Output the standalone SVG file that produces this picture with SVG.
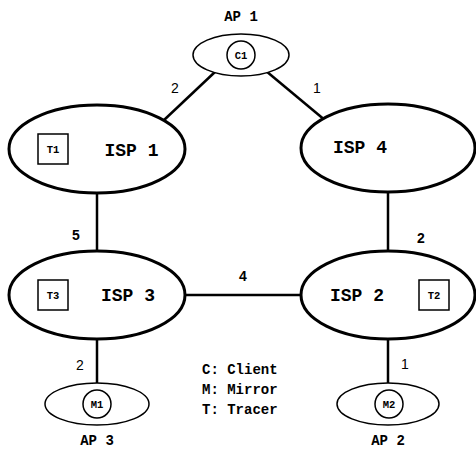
<svg xmlns="http://www.w3.org/2000/svg" width="476" height="449" viewBox="0 0 476 449">
<style>
.isp{fill:#fff;stroke:#000;stroke-width:3}
.ap{fill:#fff;stroke:#000;stroke-width:1.5}
.sm{fill:#fff;stroke:#000;stroke-width:1.5}
.ln{stroke:#000;stroke-width:2.5;fill:none}
.big{font-family:"Liberation Mono",monospace;font-weight:bold;font-size:18px}
.lab{font-family:"Liberation Mono",monospace;font-weight:bold;font-size:14px}
.tiny{font-family:"Liberation Mono",monospace;font-weight:bold;font-size:10.5px}
.num{font-family:"Liberation Sans",Arial,sans-serif;font-size:14px}
.numb{font-family:"Liberation Sans",Arial,sans-serif;font-size:14px;font-weight:bold}
</style>
<rect width="476" height="449" fill="#fff"/>
<g id="connectors">
<line class="ln" x1="163" y1="121" x2="216" y2="71"/>
<line class="ln" x1="266" y1="71" x2="326" y2="121"/>
<line class="ln" x1="97" y1="193" x2="97" y2="251"/>
<line class="ln" x1="388" y1="192" x2="388" y2="251"/>
<line class="ln" x1="185" y1="295" x2="300" y2="295"/>
<line class="ln" x1="97" y1="339" x2="97" y2="383"/>
<line class="ln" x1="388" y1="339" x2="388" y2="383"/>
<text class="num" x="175" y="93" text-anchor="middle">2</text>
<text class="num" x="317" y="93" text-anchor="middle">1</text>
<text class="numb" x="76" y="240" text-anchor="middle">5</text>
<text class="numb" x="421" y="243" text-anchor="middle">2</text>
<text class="numb" x="243" y="281" text-anchor="middle">4</text>
<text class="num" x="80" y="370" text-anchor="middle">2</text>
<text class="num" x="405" y="369" text-anchor="middle">1</text>
</g>
<g id="ap1">
<text class="lab" x="241" y="21" text-anchor="middle">AP 1</text>
<ellipse class="ap" cx="241" cy="55" rx="48" ry="21"/>
<circle class="sm" cx="241" cy="55" r="14"/>
<text class="tiny" x="241" y="59" text-anchor="middle">C1</text>
</g>
<g id="isp1">
<ellipse class="isp" cx="97" cy="149" rx="88" ry="44"/>
<rect class="sm" x="38" y="134" width="30" height="30"/>
<text class="tiny" x="53" y="153" text-anchor="middle">T1</text>
<text class="big" x="131.5" y="156" text-anchor="middle">ISP 1</text>
</g>
<g id="isp4">
<ellipse class="isp" cx="388" cy="148" rx="87" ry="44"/>
<text class="big" x="360" y="153" text-anchor="middle">ISP 4</text>
</g>
<g id="isp3">
<ellipse class="isp" cx="97" cy="295" rx="88" ry="44"/>
<rect class="sm" x="38" y="280" width="30" height="30"/>
<text class="tiny" x="53" y="299" text-anchor="middle">T3</text>
<text class="big" x="128" y="301" text-anchor="middle">ISP 3</text>
</g>
<g id="isp2">
<ellipse class="isp" cx="388" cy="295" rx="87" ry="44"/>
<rect class="sm" x="419" y="280" width="30" height="30"/>
<text class="tiny" x="434" y="299" text-anchor="middle">T2</text>
<text class="big" x="357" y="301" text-anchor="middle">ISP 2</text>
</g>
<g id="ap3">
<ellipse class="ap" cx="97" cy="404" rx="52" ry="21"/>
<circle class="sm" cx="97" cy="404" r="14"/>
<text class="tiny" x="97" y="408" text-anchor="middle">M1</text>
<text class="lab" x="97" y="445" text-anchor="middle">AP 3</text>
</g>
<g id="ap2">
<ellipse class="ap" cx="388" cy="404" rx="51" ry="21"/>
<circle class="sm" cx="389" cy="404" r="14"/>
<text class="tiny" x="389" y="408" text-anchor="middle">M2</text>
<text class="lab" x="388" y="445" text-anchor="middle">AP 2</text>
</g>
<g id="legend">
<text class="lab" x="202" y="374">C: Client</text>
<text class="lab" x="202" y="394">M: Mirror</text>
<text class="lab" x="202" y="414">T: Tracer</text>
</g>
</svg>
